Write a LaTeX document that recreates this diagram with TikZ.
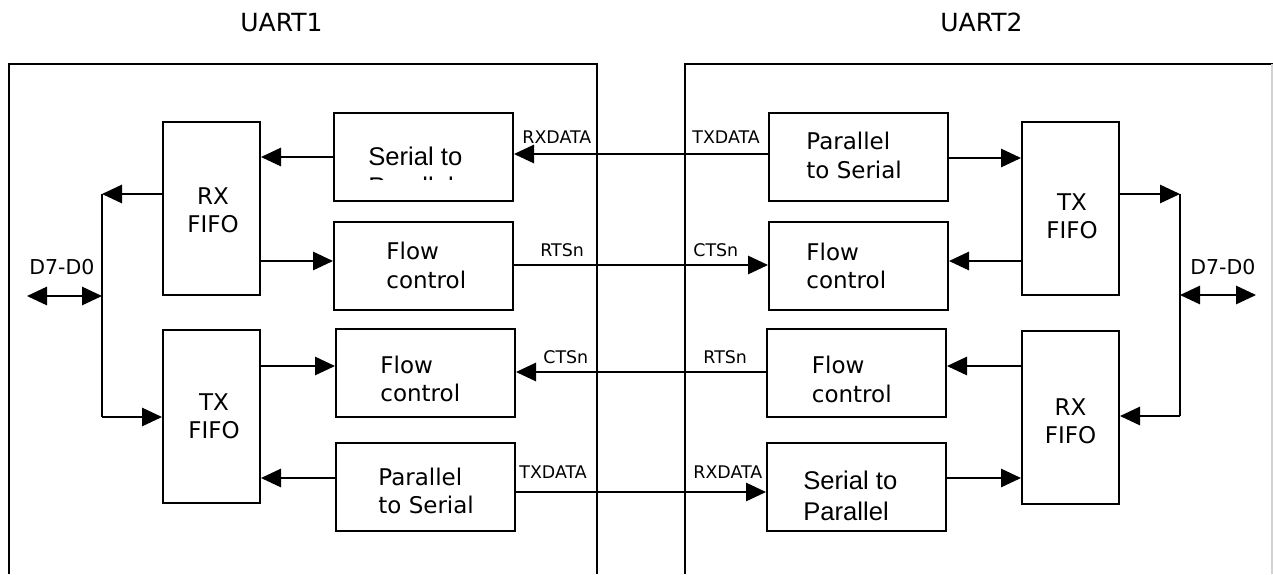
\documentclass[tikz,border=0pt]{standalone}
\usepackage{fontspec}
\setmainfont{DejaVu Sans}
\newfontfamily\arialf{Liberation Sans}
\usetikzlibrary{arrows.meta}
\newcommand\mainsz{\fontsize{11.5pt}{14.1pt}\selectfont}
\newcommand\lblsz{\fontsize{8.7pt}{10pt}\selectfont}
\newcommand\dsz{\fontsize{10.25pt}{12pt}\selectfont}
\newcommand\ttlsz{\fontsize{12.5pt}{15pt}\selectfont}
\newcommand\arsz{\arialf\fontsize{12.8pt}{15.35pt}\selectfont}
\begin{document}
\begin{tikzpicture}[x=0.5pt,y=-0.5pt,
  blk/.style={draw, line width=1pt, inner sep=0pt, minimum width=89.5pt, minimum height=44pt},
  fifo/.style={draw, line width=1pt, inner sep=0pt, minimum width=48.5pt, minimum height=86.5pt},
  bt/.style={inner sep=0pt, align=left, anchor=west, font=\mainsz},
  ft/.style={inner sep=0pt, align=center, font=\mainsz},
  arr/.style={line width=0.8pt, -{Triangle[length=10pt,width=9.2pt]}},
  darr/.style={line width=0.8pt, {Triangle[length=10pt,width=9.2pt]}-{Triangle[length=10pt,width=9.2pt]}},
  wire/.style={line width=0.8pt},
  frame/.style={line width=1pt},
  lbl/.style={anchor=base west, inner sep=0pt, font=\lblsz},
  txt/.style={anchor=base west, inner sep=0pt, font=\arsz},
  ttl/.style={anchor=base west, inner sep=0pt, font=\ttlsz},
  dlbl/.style={anchor=base west, inner sep=0pt, font=\dsz}]

\useasboundingbox (0,0) rectangle (1273,574);

% outer frames
\draw[frame] (9,574) -- (9,64) -- (597,64) -- (597,574);
\draw[frame] (685,574) -- (685,64) -- (1273,64);
\draw[gray!35, line width=0.8pt] (1272,64) -- (1272,574);

% titles
\node[ttl] (u1) at (240,31.7) {UART1};
\node[ttl] (u2) at (940,31.7) {UART2};

% UART1 blocks
\node[blk] (s2p1) at (423.5,157) {};
\node[fifo] (rx1) at (211.5,208.5) {};
\node[blk] (f1) at (423.5,265.5) {};
\node[blk] (f3) at (425.5,372.5) {};
\node[fifo] (tx1) at (211.5,416) {};
\node[blk] (p2s1) at (425.5,487) {};

% UART2 blocks
\node[blk] (p2s2) at (858.5,157) {};
\node[fifo] (tx2) at (1070.5,208.5) {};
\node[blk] (f2) at (858.5,265.5) {};
\node[blk] (f4) at (856.5,372.5) {};
\node[fifo] (rx2) at (1070.5,417) {};
\node[blk] (s2p2) at (856.5,486.5) {};

% block texts
\node[txt] (s2p1a) at (368,165) {Serial to};
\begin{scope}
\clip (334,113) rectangle (513,179);
\node[txt] (s2p1b) at (368,195.7) {Parallel};
\end{scope}
\node[ft] (rx1t) at (213,210) {RX\\FIFO};
\node[bt] (f1t) at (386,265.5) {Flow\\control};
\node[bt] (f3t) at (380,379) {Flow\\control};
\node[ft] (tx1t) at (214,416) {TX\\FIFO};
\node[bt] (p2s1t) at (378,491) {Parallel\\to Serial};

\node[bt] (p2s2t) at (806,155.5) {Parallel\\to Serial};
\node[ft] (tx2t) at (1072,216) {TX\\FIFO};
\node[bt] (f2t) at (806,266) {Flow\\control};
\node[bt] (f4t) at (811.5,379.5) {Flow\\control};
\node[ft] (rx2t) at (1070.5,421) {RX\\FIFO};
\node[txt] (s2p2a) at (803,489.3) {Serial to};
\node[txt] (s2p2b) at (803,520) {Parallel};

% bus coordinates
\coordinate (bus1top) at (102,194);
\coordinate (bus1bot) at (102,417);
\coordinate (d1L) at (27,296);
\coordinate (bus2top) at (1180,194);
\coordinate (bus2bot) at (1180,416);
\coordinate (d2R) at (1256,295);

% UART1 internal connectors
\draw[arr] (s2p1.west) -- (s2p1.west -| rx1.east);
\draw[arr] (rx1.west |- bus1top) -- (bus1top);
\draw[wire] (bus1top) -- (bus1bot);
\draw[arr] (bus1bot) -- (bus1bot -| tx1.west);
\draw[darr] (d1L) -- (d1L -| bus1top);
\draw[arr] (rx1.east |- 0,261) -- (f1.west |- 0,261);
\draw[arr] (tx1.east |- 0,366) -- (f3.west |- 0,366);
\draw[arr] (p2s1.west |- 0,478) -- (tx1.east |- 0,478);

% UART2 internal connectors
\draw[arr] (p2s2.east |- 0,158) -- (tx2.west |- 0,158);
\draw[arr] (tx2.east |- bus2top) -- (bus2top);
\draw[wire] (bus2top) -- (bus2bot);
\draw[arr] (bus2bot) -- (bus2bot -| rx2.east);
\draw[darr] (d2R -| bus2top) -- (d2R);
\draw[arr] (tx2.west |- 0,261) -- (f2.east |- 0,261);
\draw[arr] (rx2.west |- 0,366) -- (f4.east |- 0,366);
\draw[arr] (s2p2.east |- 0,478) -- (rx2.west |- 0,478);

% UART1 <-> UART2 signals
\draw[arr] (p2s2.west |- 0,154) -- (s2p1.east |- 0,154);
\draw[arr] (f1.east |- 0,265) -- (f2.west |- 0,265);
\draw[arr] (f4.west |- 0,372) -- (f3.east |- 0,372);
\draw[arr] (p2s1.east |- 0,492) -- (s2p2.west |- 0,492);

% signal labels
\node[lbl] (l1) at (522,143) {RXDATA};
\node[lbl] (l2) at (692,143) {TXDATA};
\node[lbl] (l3) at (540,256.7) {RTSn};
\node[lbl] (l4) at (693,256.7) {CTSn};
\node[lbl] (l5) at (543,363) {CTSn};
\node[lbl] (l6) at (703,363) {RTSn};
\node[lbl] (l7) at (519,478) {TXDATA};
\node[lbl] (l8) at (693,478) {RXDATA};
\node[dlbl] (d1) at (29,274) {D7-D0};
\node[dlbl] (d2) at (1190,274) {D7-D0};
\end{tikzpicture}
\end{document}
